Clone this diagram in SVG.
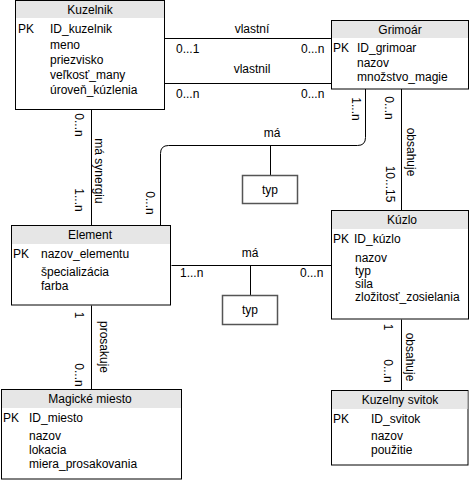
<svg xmlns="http://www.w3.org/2000/svg" width="471" height="481" viewBox="0 0 471 481">
<style>
text{font-family:"Liberation Sans",Arial,sans-serif;font-size:12px;fill:#000}
.t{text-anchor:middle}
.box{fill:#fff;stroke:#000;stroke-width:1}
.hdr{fill:#e6e6e6;stroke:none}
.ln{fill:none;stroke:#000;stroke-width:1}
.typ{fill:#fff;stroke:#555;stroke-width:1.5}
</style>
<rect width="471" height="481" fill="#fff"/>
<g id="connectors">
<path class="ln" d="M164.5 38.5H331.5"/>
<path class="ln" d="M164.5 83.5H331.5"/>
<path class="ln" d="M91.5 109.5V225.5"/>
<path class="ln" d="M160.5 225.5V153.5Q160.5 145.5 168.5 145.5H357.5Q365.5 145.5 365.5 137.5V89"/>
<path class="ln" d="M270.5 145.5V175.5"/>
<path class="ln" d="M401.5 89V210.5"/>
<path class="ln" d="M171.5 265.5H331.5"/>
<path class="ln" d="M250.5 265.5V295.5"/>
<path class="ln" d="M91.5 305.5V389.5"/>
<path class="ln" d="M401.5 319.5V390.5"/>
<text class="t" x="252" y="33">vlastní</text>
<text x="176" y="53">0...1</text>
<text x="301" y="53">0...n</text>
<text class="t" x="252" y="73">vlastnil</text>
<text x="176" y="98">0...n</text>
<text x="301" y="98">0...n</text>
<text class="t" x="272" y="137">má</text>
<text class="t" x="250" y="257">má</text>
<text x="180" y="277">1...n</text>
<text x="300" y="277">0...n</text>
<g class="t">
<text transform="translate(79 125) rotate(90)" y="4">0...n</text>
<text transform="translate(99 171) rotate(90)" y="4">má synergiu</text>
<text transform="translate(79 200) rotate(90)" y="4">1...n</text>
<text transform="translate(150 203) rotate(90)" y="4">0...n</text>
<text transform="translate(356 109) rotate(90)" y="4">1...n</text>
<text transform="translate(389 108) rotate(90)" y="4">0...n</text>
<text transform="translate(411 152) rotate(90)" y="4">obsahuje</text>
<text transform="translate(390 184) rotate(90)" y="4">10...15</text>
<text transform="translate(79 315) rotate(90)" y="4">1</text>
<text transform="translate(104 347) rotate(90)" y="4">prosakuje</text>
<text transform="translate(79 375) rotate(90)" y="4">0...n</text>
<text transform="translate(388 327) rotate(90)" y="4">1</text>
<text transform="translate(410 357) rotate(90)" y="4">obsahuje</text>
<text transform="translate(388 371) rotate(90)" y="4">0...n</text>
</g>
</g>
<g id="typ1">
<rect class="typ" x="242.5" y="175.5" width="55" height="28"/>
<text class="t" x="270" y="194">typ</text>
</g>
<g id="typ2">
<rect class="typ" x="222.5" y="295.5" width="55" height="29"/>
<text class="t" x="250" y="314">typ</text>
</g>
<g id="kuzelnik">
<rect class="box" x="15.5" y="0.5" width="149" height="109"/>
<rect class="hdr" x="16" y="1" width="148" height="17"/>
<text class="t" x="90" y="14">Kuzelnik</text>
<text x="18" y="33">PK</text>
<text x="50" y="33">ID_kuzelnik</text>
<text x="50" y="49">meno</text>
<text x="50" y="64">priezvisko</text>
<text x="50" y="79">veľkosť_many</text>
<text x="50" y="93.5">úroveň_kúzlenia</text>
</g>
<g id="grimoar">
<rect class="box" x="331.5" y="20.5" width="137" height="68.5"/>
<rect class="hdr" x="332" y="21" width="136" height="17"/>
<text class="t" x="400" y="34">Grimoár</text>
<text x="333" y="52">PK</text>
<text x="357" y="52">ID_grimoar</text>
<text x="357" y="67">nazov</text>
<text x="357" y="81">množstvo_magie</text>
</g>
<g id="element">
<rect class="box" x="11.5" y="225.5" width="159" height="79.5"/>
<rect class="hdr" x="12" y="226" width="158" height="18"/>
<text class="t" x="90" y="239">Element</text>
<text x="13" y="258">PK</text>
<text x="41" y="258">nazov_elementu</text>
<text x="41" y="276">špecializácia</text>
<text x="41" y="290">farba</text>
</g>
<g id="kuzlo">
<rect class="box" x="331.5" y="210.5" width="137" height="108.5"/>
<rect class="hdr" x="332" y="211" width="136" height="18"/>
<text class="t" x="402" y="224">Kúzlo</text>
<text x="333" y="243">PK</text>
<text x="354" y="243">ID_kúzlo</text>
<text x="355" y="262">nazov</text>
<text x="355" y="275">typ</text>
<text x="355" y="288">sila</text>
<text x="355" y="301">zložitosť_zosielania</text>
</g>
<g id="magicke">
<rect class="box" x="1.5" y="389.5" width="180" height="89.5"/>
<rect class="hdr" x="2" y="390" width="179" height="18"/>
<text class="t" x="90" y="403">Magické miesto</text>
<text x="3" y="422">PK</text>
<text x="29" y="422">ID_miesto</text>
<text x="29" y="439.5">nazov</text>
<text x="29" y="454">lokacia</text>
<text x="29" y="468">miera_prosakovania</text>
</g>
<g id="svitok">
<rect class="box" x="331.5" y="390.5" width="136.5" height="74.5"/>
<rect class="hdr" x="332" y="391" width="135.5" height="18"/>
<text class="t" x="400" y="404">Kuzelny svitok</text>
<text x="333" y="423">PK</text>
<text x="371" y="423">ID_svitok</text>
<text x="371" y="440">nazov</text>
<text x="371" y="454">použitie</text>
</g>
</svg>
